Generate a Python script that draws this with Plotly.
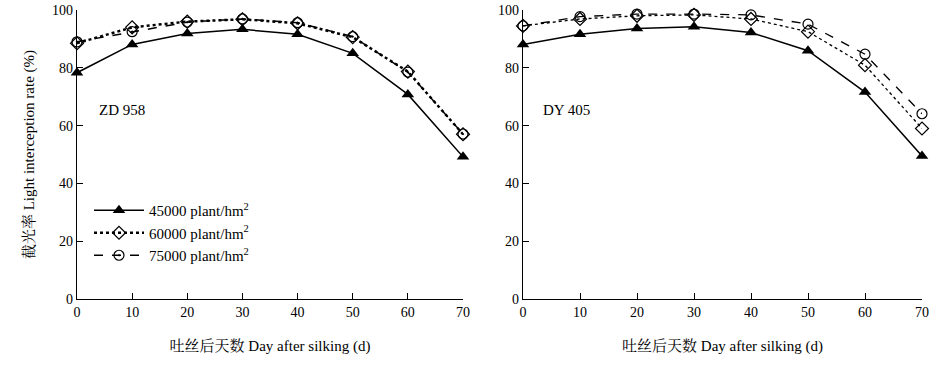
import plotly.graph_objects as go

days = [0, 10, 20, 30, 40, 50, 60, 70]

zd_45000 = [78.3, 88.1, 91.9, 93.3, 91.6, 85.0, 70.8, 49.2]
zd_60000 = [88.5, 94.0, 96.0, 96.8, 95.4, 90.6, 78.7, 57.0]
zd_75000 = [89.0, 92.5, 95.8, 96.9, 95.6, 90.8, 78.5, 57.1]

dy_45000 = [88.1, 91.6, 93.6, 94.2, 92.2, 85.9, 71.6, 49.5]
dy_60000 = [94.5, 96.9, 98.0, 98.3, 96.9, 92.5, 80.9, 59.0]
dy_75000 = [94.5, 97.7, 98.6, 98.6, 98.3, 95.1, 84.7, 64.1]

names = ["45000 plant/hm<sup>2</sup>", "60000 plant/hm<sup>2</sup>", "75000 plant/hm<sup>2</sup>"]
panel_labels = ["ZD 958", "DY 405"]
x_title = "吐丝后天数 Day after silking (d)"
y_title = "截光率 Light interception rate (%)"
x_ticks = [0, 10, 20, 30, 40, 50, 60, 70]
y_ticks = [0, 20, 40, 60, 80, 100]

FONT = "Liberation Serif, Noto Serif CJK SC, serif"

W, H = 949, 368

fig = go.Figure()

# Left panel
fig.add_trace(go.Scatter(x=days, y=zd_45000, name=names[0], mode="lines+markers",
                         line=dict(color="black", width=1.5),
                         marker=dict(symbol="triangle-up", size=11, color="black"),
                         cliponaxis=False, xaxis="x", yaxis="y"))
fig.add_trace(go.Scatter(x=days, y=zd_60000, name=names[1], mode="lines+markers",
                         line=dict(color="black", width=2.5, dash="dot"),
                         marker=dict(symbol="diamond-open", size=10, color="black", line=dict(width=1.2)),
                         cliponaxis=False, xaxis="x", yaxis="y"))
fig.add_trace(go.Scatter(x=days, y=zd_75000, name=names[2], mode="lines+markers",
                         line=dict(color="black", width=1.5, dash="dash"),
                         marker=dict(symbol="circle-open-dot", size=10, color="black", line=dict(width=1.2)),
                         cliponaxis=False, xaxis="x", yaxis="y"))

# Right panel
fig.add_trace(go.Scatter(x=days, y=dy_45000, name=names[0], mode="lines+markers", showlegend=False,
                         line=dict(color="black", width=1.5),
                         marker=dict(symbol="triangle-up", size=11, color="black"),
                         cliponaxis=False, xaxis="x2", yaxis="y2"))
fig.add_trace(go.Scatter(x=days, y=dy_60000, name=names[1], mode="lines+markers", showlegend=False,
                         line=dict(color="black", width=1.3, dash="dot"),
                         marker=dict(symbol="diamond-open", size=10, color="black", line=dict(width=1.2)),
                         cliponaxis=False, xaxis="x2", yaxis="y2"))
fig.add_trace(go.Scatter(x=days, y=dy_75000, name=names[2], mode="lines+markers", showlegend=False,
                         line=dict(color="black", width=1.3, dash="dash"),
                         marker=dict(symbol="circle-open", size=10, color="black", line=dict(width=1.2)),
                         cliponaxis=False, xaxis="x2", yaxis="y2"))

axis_common = dict(showgrid=False, zeroline=False, showline=True, linecolor="black", linewidth=1.2,
                   ticks="inside", ticklen=6, tickcolor="black", tickwidth=1.2, automargin=False,
                   ticklabeloverflow="allow",
                   tickfont=dict(family=FONT, size=14, color="black"))

ybot = (H - 299) / H
ytop = (H - 10) / H

fig.update_layout(
    width=W, height=H,
    margin=dict(l=0, r=0, t=0, b=0),
    paper_bgcolor="white", plot_bgcolor="white",
    font=dict(family=FONT, size=14, color="black"),
    xaxis=dict(domain=[77 / W, 463 / W], range=[0, 70], tickvals=x_ticks,
               title=dict(text=x_title, font=dict(family=FONT, size=15), standoff=21),
               anchor="y", **axis_common),
    yaxis=dict(domain=[ybot, ytop], range=[0, 100], tickvals=y_ticks,
               title=dict(text=y_title, font=dict(family=FONT, size=15), standoff=13),
               anchor="x", **axis_common),
    xaxis2=dict(domain=[523 / W, 922 / W], range=[0, 70], tickvals=x_ticks,
                title=dict(text=x_title, font=dict(family=FONT, size=15), standoff=21),
                anchor="y2", **axis_common),
    yaxis2=dict(domain=[ybot, ytop], range=[0, 100], tickvals=y_ticks,
                anchor="x2", **axis_common),
    showlegend=True,
    legend=dict(x=89 / W, y=1 - 194 / H, xanchor="left", yanchor="top",
                bgcolor="rgba(0,0,0,0)", font=dict(family=FONT, size=15),
                tracegroupgap=0, itemwidth=50),
    annotations=[
        dict(text=panel_labels[0], x=3.6, y=65.5, xref="x", yref="y", xanchor="left",
             showarrow=False, font=dict(family=FONT, size=15)),
        dict(text=panel_labels[1], x=3.2, y=65.5, xref="x2", yref="y2", xanchor="left",
             showarrow=False, font=dict(family=FONT, size=15)),
    ],
)

fig.write_html("out.html",
               config={"displayModeBar": False},
               post_script="document.body.style.margin='0';document.body.style.overflow='hidden';")
